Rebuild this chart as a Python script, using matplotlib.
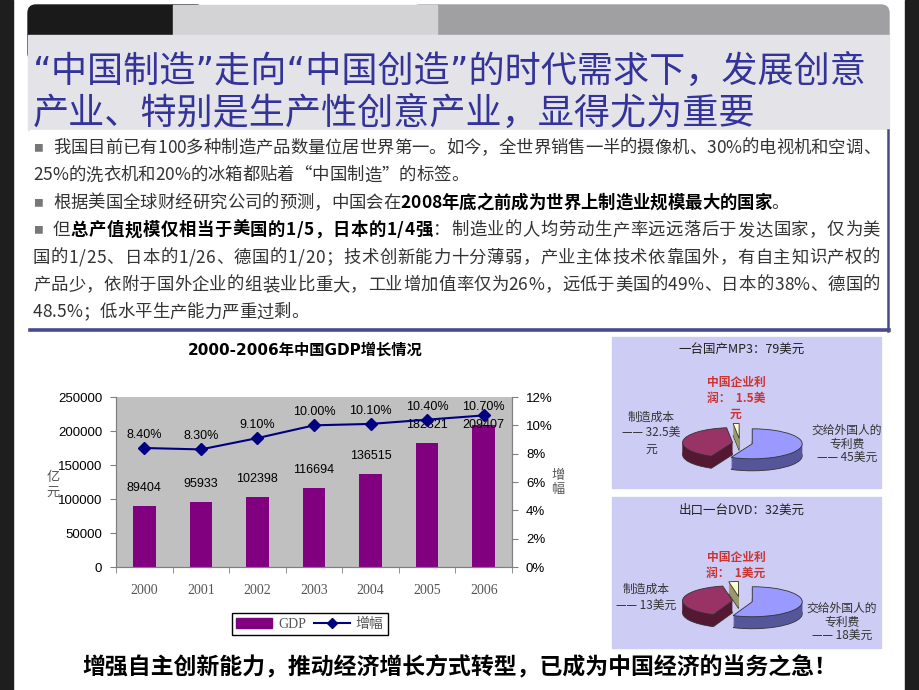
"""
Diapo : du « Made in China » au « Created in China » (PIB 2000-2006 + deux camemberts).
"""

import numpy as np
import matplotlib

matplotlib.use("Agg")
import matplotlib.pyplot as plt
from matplotlib.patches import Rectangle, FancyBboxPatch
from matplotlib.lines import Line2D
from matplotlib.ticker import PercentFormatter
from matplotlib.font_manager import FontProperties

plt.rcParams["font.family"] = ["Noto Sans CJK SC", "DejaVu Sans"]

W, H = 920, 690

# --- données -------------------------------------------------------------
title_lines = [
    "“中国制造”走向“中国创造”的时代需求下，发展创意",
    "产业、特别是生产性创意产业，显得尤为重要",
]

# (texte, gras ?) ; None en tête = ligne avec puce
text_lines = [
    [None, ("我国目前已有100多种制造产品数量位居世界第一。如今，全世界销售一半的摄像机、30%的电视机和空调、", False)],
    [("25%的洗衣机和20%的冰箱都贴着“中国制造”的标签。", False)],
    [None, ("根据美国全球财经研究公司的预测，中国会在", False),
     ("2008年底之前成为世界上制造业规模最大的国家", True), ("。", False)],
    [None, ("但", False), ("总产值规模仅相当于美国的1/5，日本的1/4强", True),
     ("：制造业的人均劳动生产率远远落后于发达国家，仅为美", False)],
    [("国的1/25、日本的1/26、德国的1/20；技术创新能力十分薄弱，产业主体技术依靠国外，有自主知识产权的", False)],
    [("产品少，依附于国外企业的组装业比重大，工业增加值率仅为26%，远低于美国的49%、日本的38%、德国的", False)],
    [("48.5%；低水平生产能力严重过剩。", False)],
]
justified = [True, False, False, True, True, True, False]

chart_title = "2000-2006年中国GDP增长情况"
years = ["2000", "2001", "2002", "2003", "2004", "2005", "2006"]
gdp = [89404, 95933, 102398, 116694, 136515, 182321, 209407]
growth = [0.084, 0.083, 0.091, 0.100, 0.101, 0.104, 0.107]

mp3_title = "一台国产MP3：79美元"
mp3_values = [45, 32.5, 1.5]  # brevets, fabrication, bénéfice
mp3_labels = ["交给外国人的\n专利费\n—— 45美元", "制造成本\n—— 32.5美\n元", "中国企业利\n润：  1.5美\n元"]

dvd_title = "出口一台DVD：32美元"
dvd_values = [18, 13, 1]
dvd_labels = ["交给外国人的\n专利费\n—— 18美元", "制造成本\n—— 13美元", "中国企业利\n润：  1美元"]

conclusion = "增强自主创新能力，推动经济增长方式转型，已成为中国经济的当务之急！"


def px_rect(x0, y0, x1, y1):
    return [x0 / W, 1 - y1 / H, (x1 - x0) / W, (y1 - y0) / H]


fig = plt.figure(figsize=(W / 100, H / 100), dpi=100)
renderer = fig.canvas.get_renderer()

# fond de la diapo, en pixels
cv = fig.add_axes([0, 0, 1, 1])
cv.set_xlim(0, W)
cv.set_ylim(H, 0)
cv.axis("off")

cv.add_patch(Rectangle((0, 0), 13, H, color="#1e1e1e"))
cv.add_patch(Rectangle((905, 0), 15, H, color="#1e1e1e"))

# bandeau du haut
cv.add_patch(FancyBboxPatch((36, 13), 160, 40, boxstyle="round,pad=8", color="#1a1a1a"))
cv.add_patch(FancyBboxPatch((420, 13), 461, 40, boxstyle="round,pad=8", color="#a0a0a3"))
cv.add_patch(Rectangle((173, 5), 264, 30, color="#d3d3d6"))
cv.add_patch(Rectangle((28, 35), 861, 95, color="#e4e4e8"))

for i, line in enumerate(title_lines):
    cv.text(33, 71 + 42 * i, line, fontsize=26, color="#333399", va="center",
            family=["DejaVu Sans", "Noto Sans CJK SC"])

# encadré de texte
cv.add_patch(Rectangle((30, 130), 858, 200, color="white"))
cv.plot([888, 888], [130, 331], color="#4a4a8a", lw=1.8)
cv.plot([30, 889], [330, 330], color="#4a4a8a", lw=2.6)

fp = {
    False: FontProperties(family=["Noto Sans CJK SC", "DejaVu Sans"], size=12.5),
    True: FontProperties(family=["Noto Sans CJK SC", "DejaVu Sans"], size=12.5, weight="bold"),
}


def advance(ch, bold):
    # largeur d'avance d'un caractère : on l'encadre pour ne pas mesurer l'encre seule
    f = fp[bold]
    w3 = renderer.get_text_width_height_descent("国" + ch + "国", f, ismath=False)[0]
    w2 = renderer.get_text_width_height_descent("国国", f, ismath=False)[0]
    return w3 - w2


y = 148
right_edge = 880
for runs, just in zip(text_lines, justified):
    x = 33
    if runs[0] is None:
        cv.text(x, y, "■", fontsize=7, color="#777777", va="center")
        x = 53
        runs = runs[1:]
    chars = [(ch, bold) for s, bold in runs for ch in s]
    advs = [advance(ch, bold) for ch, bold in chars]
    gap = 0.0
    if just:
        gap = (right_edge - x - sum(advs)) / (len(chars) - 1)
    for (ch, bold), a in zip(chars, advs):
        cv.text(x, y, ch, fontproperties=fp[bold], va="center",
                color="black" if bold else "#333333")
        x += a + gap
    y += 27.4

# --- graphique PIB -------------------------------------------------------
cv.text(305, 350, chart_title, fontsize=11, fontweight="bold", ha="center", va="center",
        family=["DejaVu Sans", "Noto Sans CJK SC"])
cv.text(53, 485, "亿\n元", fontsize=9.5, color="#555555", ha="center", va="center", linespacing=1.1)
cv.text(558, 483, "增\n幅", fontsize=9.5, color="#555555", ha="center", va="center", linespacing=1.1)

ax = fig.add_axes(px_rect(116, 397, 512, 567))
xs = np.arange(len(years))
bars = ax.bar(xs, gdp, width=0.4, color="#800080", zorder=2)
ax.set_facecolor("#c0c0c0")
ax.set_xlim(-0.5, len(years) - 0.5)
ax.set_ylim(0, 250000)
ax.set_yticks(range(0, 250001, 50000))
ax.set_xticks(xs)
ax.set_xticklabels(years, family="Liberation Serif", color="#555555", fontsize=10)
ax.set_xticks(np.arange(-0.5, len(years), 1), minor=True)
ax.tick_params(axis="x", which="major", length=0, pad=12)
ax.tick_params(axis="x", which="minor", length=4, color="#808080")
ax.tick_params(axis="y", labelsize=9.5, length=4, color="#808080", pad=6)
for lbl in ax.get_yticklabels():
    lbl.set_family("Liberation Sans")
for v, xi in zip(gdp, xs):
    ax.text(xi, min(v + 26500, 208500), f"{v}", ha="center", va="center",
            fontsize=9, family="Liberation Sans", zorder=3)

ax2 = ax.twinx()
line, = ax2.plot(xs, growth, color="#000080", marker="D", markersize=6, lw=1.5)
ax2.set_ylim(0, 0.12)
ax2.yaxis.set_major_formatter(PercentFormatter(1.0, decimals=0))
ax2.tick_params(axis="y", labelsize=9.5, length=4, color="#808080", pad=6)
for lbl in ax2.get_yticklabels():
    lbl.set_family("Liberation Sans")
for g, xi in zip(growth, xs):
    ax2.text(xi, min(g + 0.0092, 0.1129), f"{g * 100:.2f}%", ha="center", va="center",
             fontsize=9, family="Liberation Sans")
for a in (ax, ax2):
    a.spines["top"].set_visible(False)
    for s in ("left", "right", "bottom"):
        a.spines[s].set_color("#808080")
        a.spines[s].set_linewidth(0.8)

fig.legend(
    [Rectangle((0, 0), 1, 1, color="#800080"), Line2D([], [], color="#000080", marker="D", markersize=5)],
    ["GDP", "增幅"],
    loc="center",
    bbox_to_anchor=(310 / W, 1 - 624 / H),
    ncol=2,
    fancybox=False,
    edgecolor="black",
    framealpha=1,
    handlelength=2.6,
    columnspacing=0.6,
    handletextpad=0.4,
    borderpad=0.3,
    prop={"family": ["Liberation Serif", "Noto Sans CJK SC"], "size": 10},
    labelcolor="#555555",
)


# --- camemberts 3D -------------------------------------------------------
def pie3d(box, cx, cy, values, title, labels, label_pos):
    x0, y0, x1, y1 = box
    cv.add_patch(Rectangle((x0, y0), x1 - x0, y1 - y0, color="#ccccf4"))
    rx, ry, depth = 50, 15, 12
    pa = fig.add_axes(px_rect(x0, y0, x1, y1))
    tops = ["#9999ff", "#993366", "#ffffcc"]
    sides = ["#55559a", "#551833", "#99996a"]
    explode = [0.25, 0.15, 0.3]
    ks = np.linspace(depth / ry, 0, 14, endpoint=False)
    for j, k in enumerate(ks):
        pa.pie(values, colors=sides, explode=explode, startangle=90, counterclock=False,
               center=(0, -k),
               wedgeprops=dict(linewidth=0.6 if j == 0 else 0, edgecolor="#333333"))
    pa.pie(values, colors=tops, explode=explode, startangle=90, counterclock=False,
           wedgeprops=dict(linewidth=0.6, edgecolor="#333333"))
    pa.set_aspect("auto")
    pa.set_xlim((x0 - cx) / rx, (x1 - cx) / rx)
    pa.set_ylim((cy - y1) / ry, (cy - y0) / ry)
    pa.axis("off")

    fig.text(742 / W, 1 - (y0 + 13) / H, title, fontsize=9, color="#222222",
             ha="center", va="center")
    colors = ["#333333", "#333333", "#cc3333"]
    weights = ["normal", "normal", "bold"]
    spacing = [1.05, 1.3, 1.3]
    for lab, (lx, ly), c, fw, sp in zip(labels, label_pos, colors, weights, spacing):
        fig.text(lx / W, 1 - ly / H, lab, fontsize=8.5, color=c, fontweight=fw,
                 ha="center", va="center", multialignment="center", linespacing=sp)


pie3d((612, 337, 881, 488), 740, 443, mp3_values, mp3_title, mp3_labels,
      [(847, 444), (651, 433), (736, 398)])
pie3d((612, 497, 881, 648), 740, 601, dvd_values, dvd_title, dvd_labels,
      [(842, 622), (646, 597), (736, 565)])

cv.text(460, 668, conclusion, fontsize=16.5, fontweight="bold", ha="center", va="center")

fig.savefig("out.png", dpi=100)
